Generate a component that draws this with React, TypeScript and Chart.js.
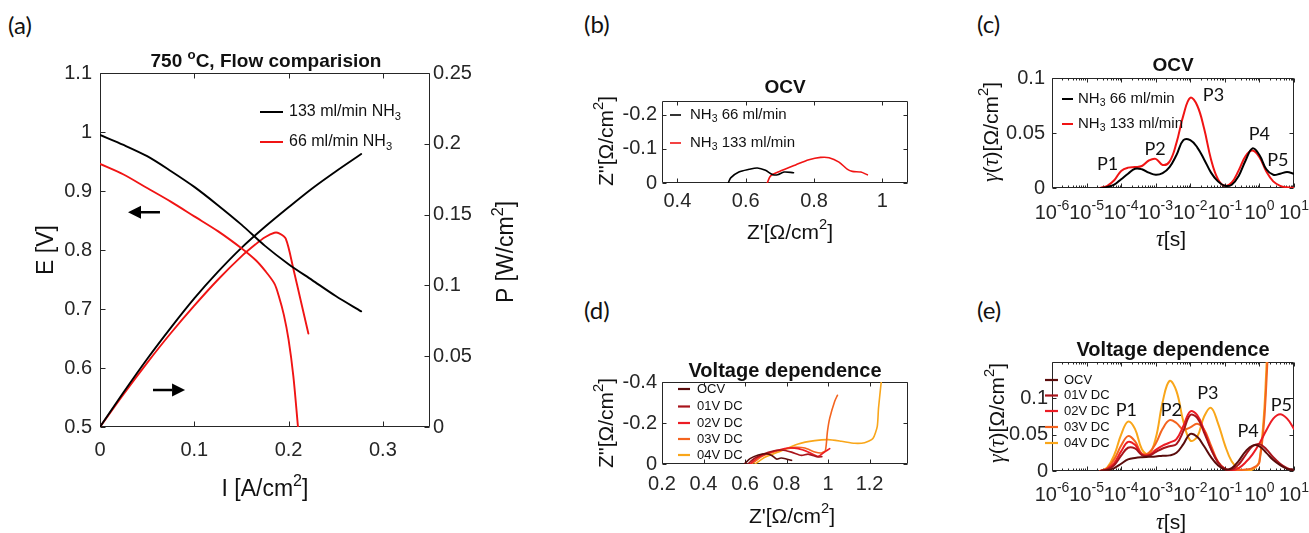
import React, { useEffect, useRef } from 'react';
import { Chart, registerables } from 'chart.js';

Chart.register(...registerables);

const SANS = '"Liberation Sans", Arial, Helvetica, sans-serif';
const SERIF = '"Liberation Serif", "DejaVu Serif", serif';
const LETTER = 'Lato, "Open Sans", sans-serif';
const AXIS = '#262626';
const TXT = '#111111';
const RED = '#f01414';
const TICK_SIZE = 20;

// ================= (a) polarisation & power curves =================
const aXTicks = [0, 0.1, 0.2, 0.3];
const aYTicks = [0.5, 0.6, 0.7, 0.8, 0.9, 1, 1.1];
const aY2Ticks = [0, 0.05, 0.1, 0.15, 0.2, 0.25];
const aNames = ['133 ml/min NH', '66 ml/min NH'];
const aI133 = [0, 0.025, 0.05, 0.075, 0.1, 0.125, 0.15, 0.175, 0.2, 0.225, 0.25, 0.277];
const aE133 = [0.995, 0.978, 0.959, 0.934, 0.907, 0.876, 0.843, 0.807, 0.776, 0.749, 0.722, 0.696];
const aP133 = [0, 0.0245, 0.048, 0.07, 0.0908, 0.1095, 0.1265, 0.1414, 0.1552, 0.1685, 0.1805, 0.1928];
const aI66E = [0, 0.025, 0.05, 0.075, 0.1, 0.125, 0.15, 0.165, 0.175, 0.185, 0.19, 0.195, 0.2, 0.205, 0.21];
const aE66 = [0.946, 0.928, 0.905, 0.882, 0.857, 0.832, 0.803, 0.783, 0.765, 0.743, 0.72, 0.69, 0.648, 0.587, 0.5];
const aI66P = [0, 0.025, 0.05, 0.075, 0.1, 0.125, 0.15, 0.165, 0.175, 0.185, 0.19, 0.197, 0.205, 0.213, 0.221];
const aP66 = [0, 0.0232, 0.0453, 0.0662, 0.0857, 0.104, 0.1205, 0.129, 0.134, 0.1372, 0.1368, 0.133, 0.112, 0.089, 0.066];

// ================= (b) Nyquist, OCV =================
const bXTicks = [0.4, 0.6, 0.8, 1];
const bYTicks = [-0.2, -0.1, 0];
const bNames = [' 66 ml/min', ' 133 ml/min'];
const bZre66 = [0.549, 0.556, 0.58, 0.61, 0.634, 0.658, 0.678, 0.693, 0.712, 0.74];
const bZim66 = [0, -0.015, -0.032, -0.04, -0.044, -0.037, -0.025, -0.024, -0.032, -0.03];
const bZre133 = [0.663, 0.673, 0.697, 0.746, 0.785, 0.819, 0.844, 0.873, 0.898, 0.912, 0.937, 0.956];
const bZim133 = [0, -0.021, -0.033, -0.053, -0.068, -0.075, -0.074, -0.061, -0.04, -0.034, -0.032, -0.024];

// ================= (c) DRT, OCV =================
const tauDecades = [-6, -5, -4, -3, -2, -1, 0, 1];
const tauExp = [-4.6, -4.4, -4.2, -4, -3.8, -3.6, -3.4, -3.2, -3, -2.8, -2.6, -2.4, -2.2, -2, -1.8, -1.6, -1.4, -1.2, -1, -0.8, -0.6, -0.4, -0.2, 0, 0.2, 0.4, 0.6, 0.8, 1];
const cYTicks = [0, 0.05, 0.1];
const cG66 = [0, 0.001, 0.003, 0.008, 0.013, 0.0175, 0.017, 0.014, 0.012, 0.0135, 0.019, 0.03, 0.0435, 0.0435, 0.037, 0.026, 0.014, 0.006, 0.002, 0.003, 0.011, 0.025, 0.036, 0.03, 0.017, 0.012, 0.013, 0.0145, 0.013];
const cG133 = [0, 0.002, 0.007, 0.0155, 0.0185, 0.019, 0.02, 0.025, 0.0265, 0.021, 0.024, 0.041, 0.066, 0.082, 0.075, 0.054, 0.026, 0.008, 0.002, 0.005, 0.016, 0.029, 0.034, 0.028, 0.015, 0.006, 0.002, 0.0006, 0.0002];
const cPeaks = ['P1', 'P2', 'P3', 'P4', 'P5'];
const cPeakTau = [-4.39, -3.02, -1.33, 0.0, 0.53];
const cPeakG = [0.0218, 0.0357, 0.0842, 0.0485, 0.0257];

// ================= (d) Nyquist, voltage dependence =================
const dXTicks = [0.2, 0.4, 0.6, 0.8, 1, 1.2];
const dYTicks = [-0.4, -0.2, 0];
const vNames = ['OCV', '01V DC', '02V DC', '03V DC', '04V DC'];
const dZreOCV = [0.597, 0.624, 0.664, 0.704, 0.731, 0.752, 0.773, 0.795, 0.824];
const dZimOCV = [0, -0.026, -0.044, -0.05, -0.04, -0.024, -0.029, -0.026, -0.018];
const dZre01 = [0.613, 0.648, 0.712, 0.776, 0.824, 0.872, 0.904, 0.952, 0.97];
const dZim01 = [0, -0.029, -0.057, -0.068, -0.058, -0.042, -0.048, -0.034, -0.036];
const dZre02 = [0.624, 0.664, 0.728, 0.808, 0.856, 0.904, 0.952, 0.984, 1.008];
const dZim02 = [0, -0.033, -0.059, -0.078, -0.075, -0.059, -0.037, -0.059, -0.075];
const dZre03 = [0.632, 0.68, 0.76, 0.84, 0.888, 0.936, 0.968, 0.987, 0.997, 1.008, 1.032, 1.045];
const dZim03 = [0, -0.037, -0.065, -0.081, -0.078, -0.059, -0.054, -0.065, -0.159, -0.224, -0.306, -0.335];
const dZre04 = [0.648, 0.696, 0.776, 0.856, 0.936, 1.0, 1.064, 1.128, 1.176, 1.216, 1.237, 1.243, 1.256, 1.261];
const dZim04 = [0, -0.033, -0.065, -0.098, -0.114, -0.119, -0.111, -0.101, -0.104, -0.124, -0.184, -0.273, -0.4, -0.452];

// ================= (e) DRT, voltage dependence =================
const eYTicks = [0, 0.05, 0.1];
const eGOCV = [0, 0.001, 0.004, 0.01, 0.016, 0.018, 0.019, 0.0195, 0.02, 0.021, 0.0215, 0.025, 0.037, 0.051, 0.047, 0.034, 0.019, 0.008, 0.002, 0.004, 0.014, 0.027, 0.035, 0.034, 0.025, 0.015, 0.008, 0.003, 0.001];
const eG01 = [0, 0.002, 0.008, 0.021, 0.032, 0.031, 0.022, 0.021, 0.026, 0.031, 0.034, 0.037, 0.055, 0.077, 0.073, 0.053, 0.03, 0.012, 0.003, 0.002, 0.009, 0.022, 0.034, 0.037, 0.03, 0.019, 0.01, 0.004, 0.001];
const eG02 = [0, 0.003, 0.011, 0.027, 0.04, 0.036, 0.023, 0.022, 0.029, 0.035, 0.039, 0.044, 0.062, 0.082, 0.077, 0.056, 0.031, 0.012, 0.003, 0.001, 0.004, 0.012, 0.023, 0.038, 0.056, 0.072, 0.078, 0.072, 0.058];
const eG03 = [0, 0.004, 0.016, 0.035, 0.048, 0.041, 0.024, 0.025, 0.038, 0.058, 0.07, 0.066, 0.057, 0.06, 0.065, 0.057, 0.035, 0.013, 0.003, 0.0, 0.001, 0.002, 0.004, 0.012, 0.12, 0.38];
const eG04 = [0, 0.005, 0.022, 0.05, 0.068, 0.058, 0.03, 0.023, 0.045, 0.095, 0.124, 0.11, 0.068, 0.042, 0.047, 0.075, 0.087, 0.066, 0.036, 0.013, 0.003, 0.0, 0.002, 0.014, 0.14, 0.4];
const ePeaks = ['P1', 'P2', 'P3', 'P4', 'P5'];
const ePeakTau = [-3.85, -2.55, -1.49, -0.33, 0.636];
const ePeakG = [0.0837, 0.0837, 0.1066, 0.0549, 0.0905];

const vColors = ['#5a0c0c', '#a8141b', '#ec1c24', '#f4641f', '#f9a61a'];

// ================= helpers =================
type Pt = { x: number; y: number };
type Seg = { t: string; s?: 'sup' | 'sub'; it?: boolean };

const zip = (xs: number[], ys: number[]): Pt[] => ys.map((y, i) => ({ x: xs[i], y }));
const zipLog = (es: number[], ys: number[]): Pt[] => ys.map((y, i) => ({ x: Math.pow(10, es[i]), y }));
const fmt = (v: any) => String(parseFloat(Number(v).toFixed(4)));

function series(data: Pt[], color: string, width: number, tension: number, yAxisID = 'y') {
  return {
    data, borderColor: color, backgroundColor: color, borderWidth: width,
    pointRadius: 0, pointHoverRadius: 0, tension, yAxisID, fill: false,
    borderCapStyle: 'round', borderJoinStyle: 'round',
  };
}

function linScale(position: string, min: number, max: number, ticks: number[], fit: number, pad: number, extra: any = {}) {
  const horizontal = position === 'bottom';
  return {
    type: 'linear', position, min, max,
    grid: { display: false, drawTicks: false }, border: { display: false },
    afterBuildTicks: (s: any) => { s.ticks = ticks.map((value) => ({ value })); },
    afterFit: (s: any) => { if (horizontal) s.height = fit; else s.width = fit; },
    ticks: {
      font: { family: SANS, size: TICK_SIZE }, color: AXIS, padding: pad, autoSkip: false,
      maxRotation: 0, minRotation: 0, includeBounds: false, callback: fmt,
    },
    ...extra,
  };
}

function logXScale(fit: number) {
  return {
    type: 'logarithmic', position: 'bottom', min: 1e-6, max: 10,
    grid: { display: false, drawTicks: false }, border: { display: false },
    afterBuildTicks: (s: any) => { s.ticks = tauDecades.map((e) => ({ value: Math.pow(10, e) })); },
    afterFit: (s: any) => { s.height = fit; },
    ticks: { display: false, autoSkip: false },
  };
}

function baseOptions(padding: any, scales: any) {
  return {
    responsive: false, maintainAspectRatio: false, animation: false, events: [],
    layout: { padding },
    plugins: { legend: { display: false }, tooltip: { enabled: false }, title: { display: false } },
    scales,
  };
}

function drawRich(ctx: CanvasRenderingContext2D, segs: Seg[], x: number, y: number, size: number,
  weight = 'normal', align: 'left' | 'center' = 'center', color = TXT, family = SANS) {
  const parts = segs.map((g) => {
    const sz = g.s ? size * 0.7 : size;
    const font = g.it ? `italic ${sz * 1.05}px ${SERIF}` : `${weight} ${sz}px ${family}`;
    ctx.font = font;
    return { t: g.t, font, w: ctx.measureText(g.t).width, dy: g.s === 'sup' ? -size * 0.36 : g.s === 'sub' ? size * 0.3 : 0 };
  });
  const total = parts.reduce((s, p) => s + p.w, 0);
  let cx = align === 'center' ? x - total / 2 : x;
  ctx.save();
  ctx.fillStyle = color;
  ctx.textBaseline = 'middle';
  ctx.textAlign = 'left';
  parts.forEach((p) => { ctx.font = p.font; ctx.fillText(p.t, cx, y + p.dy); cx += p.w; });
  ctx.restore();
}

function drawRotated(ctx: CanvasRenderingContext2D, segs: Seg[], x: number, y: number, size: number) {
  ctx.save();
  ctx.translate(x, y);
  ctx.rotate(-Math.PI / 2);
  drawRich(ctx, segs, 0, 0, size);
  ctx.restore();
}

function legendEntry(ctx: CanvasRenderingContext2D, x1: number, x2: number, y: number, color: string, lw: number, tx: number, segs: Seg[], size: number) {
  ctx.save();
  ctx.strokeStyle = color; ctx.lineWidth = lw;
  ctx.beginPath(); ctx.moveTo(x1, y); ctx.lineTo(x2, y); ctx.stroke();
  ctx.restore();
  drawRich(ctx, segs, tx, y, size, 'normal', 'left', TXT);
}

function arrow(ctx: CanvasRenderingContext2D, x1: number, y1: number, x2: number, y2: number) {
  const ang = Math.atan2(y2 - y1, x2 - x1);
  const hl = 13, hw = 6.5;
  const c = Math.cos(ang), s = Math.sin(ang);
  ctx.save();
  ctx.strokeStyle = '#000'; ctx.fillStyle = '#000'; ctx.lineWidth = 2.5;
  ctx.beginPath(); ctx.moveTo(x1, y1); ctx.lineTo(x2 - hl * c, y2 - hl * s); ctx.stroke();
  ctx.beginPath();
  ctx.moveTo(x2, y2);
  ctx.lineTo(x2 - hl * c + hw * s, y2 - hl * s - hw * c);
  ctx.lineTo(x2 - hl * c - hw * s, y2 - hl * s + hw * c);
  ctx.closePath(); ctx.fill();
  ctx.restore();
}

function makeFrame(tickLen: number, logMinor: boolean) {
  return {
    id: 'frame',
    beforeDatasetsDraw(chart: any) {
      const { ctx, chartArea: a, scales } = chart;
      const L = Math.round(a.left) + 0.5, R = Math.round(a.right) - 0.5;
      const T = Math.round(a.top) + 0.5, B = Math.round(a.bottom) - 0.5;
      ctx.save();
      ctx.strokeStyle = AXIS; ctx.lineWidth = 1;
      ctx.beginPath();
      ctx.rect(L, T, R - L, B - T);
      const xs = scales.x;
      const vx = (v: number, len: number) => {
        const p = Math.round(xs.getPixelForValue(v)) + 0.5;
        ctx.moveTo(p, B); ctx.lineTo(p, B - len); ctx.moveTo(p, T); ctx.lineTo(p, T + len);
      };
      xs.ticks.forEach((t: any) => vx(t.value, tickLen));
      if (logMinor) {
        tauDecades.slice(0, -1).forEach((e) => {
          for (let k = 2; k < 10; k++) vx(k * Math.pow(10, e), tickLen * 0.5);
        });
      }
      const y1 = scales.y, y2 = scales.y2;
      y1.ticks.forEach((t: any) => {
        const p = Math.round(y1.getPixelForValue(t.value)) + 0.5;
        ctx.moveTo(L, p); ctx.lineTo(L + tickLen, p);
        if (!y2) { ctx.moveTo(R, p); ctx.lineTo(R - tickLen, p); }
      });
      if (y2) {
        y2.ticks.forEach((t: any) => {
          const p = Math.round(y2.getPixelForValue(t.value)) + 0.5;
          ctx.moveTo(R, p); ctx.lineTo(R - tickLen, p);
        });
      }
      ctx.stroke();
      ctx.restore();
    },
  };
}

function logTickLabels(chart: any, dy: number) {
  const { ctx, chartArea: a } = chart;
  const xs = chart.scales.x;
  xs.ticks.forEach((t: any) => {
    const e = Math.round(Math.log10(t.value));
    drawRich(ctx, [{ t: '10' }, { t: String(e), s: 'sup' }], xs.getPixelForValue(t.value), a.bottom + dy, TICK_SIZE, 'normal', 'center', AXIS);
  });
}

type PanelDef = { left: number; top: number; width: number; height: number; build: () => any };

function makeDeco(panel: { left: number; top: number }, fn: (ctx: CanvasRenderingContext2D, chart: any, X: (v: number) => number, Y: (v: number) => number) => void) {
  return {
    id: 'deco',
    afterDraw(chart: any) {
      fn(chart.ctx, chart, (v) => v - panel.left, (v) => v - panel.top);
    },
  };
}

const cm2 = (pre: string): Seg[] => [{ t: pre + '[Ω/cm' }, { t: '2', s: 'sup' }, { t: ']' }];
const gammaLabel: Seg[] = [{ t: 'γ', it: true }, { t: '(' }, { t: 'τ', it: true }, { t: ')' }, ...cm2('')];
const tauLabel: Seg[] = [{ t: 'τ', it: true }, { t: '[s]' }];

// ================= panels =================
const PA = { left: 0, top: 40, width: 560, height: 493 };
const PB = { left: 570, top: 60, width: 370, height: 200 };
const PC = { left: 960, top: 50, width: 349, height: 210 };
const PD = { left: 570, top: 330, width: 370, height: 203 };
const PE = { left: 960, top: 330, width: 349, height: 203 };

const panelA: PanelDef = {
  ...PA,
  build: () => ({
    type: 'line',
    data: {
      datasets: [
        series(zip(aI133, aE133), '#000', 1.9, 0.3, 'y'),
        series(zip(aI66E, aE66), RED, 1.9, 0.3, 'y'),
        series(zip(aI133, aP133), '#000', 1.9, 0.3, 'y2'),
        series(zip(aI66P, aP66), RED, 1.9, 0.3, 'y2'),
      ],
    },
    options: baseOptions({ left: 30, top: 33, right: 50, bottom: 66 }, {
      x: linScale('bottom', 0, 0.35, aXTicks, 40, 11),
      y: linScale('left', 0.5, 1.1, aYTicks, 70, 8),
      y2: linScale('right', 0, 0.25, aY2Ticks, 80, 3),
    }),
    plugins: [
      makeFrame(5, false),
      makeDeco(PA, (ctx, chart, X, Y) => {
        drawRich(ctx, [{ t: '750 ' }, { t: 'o', s: 'sup' }, { t: 'C, Flow comparision' }], X(266), Y(62), 19, 'bold');
        drawRotated(ctx, [{ t: 'E [V]' }], X(47), Y(250), 23);
        drawRotated(ctx, [{ t: 'P [W/cm' }, { t: '2', s: 'sup' }, { t: ']' }], X(507), Y(252), 23);
        drawRich(ctx, [{ t: 'I [A/cm' }, { t: '2', s: 'sup' }, { t: ']' }], X(265), Y(490), 23);
        const cols = ['#000', RED];
        const ly = [112, 142];
        aNames.forEach((n, i) => legendEntry(ctx, X(260), X(283), Y(ly[i]), cols[i], 2, X(289), [{ t: n }, { t: '3', s: 'sub' }], 16));
        const xs = chart.scales.x, ys = chart.scales.y;
        arrow(ctx, xs.getPixelForValue(0.0636), ys.getPixelForValue(0.864), xs.getPixelForValue(0.0297), ys.getPixelForValue(0.864));
        arrow(ctx, xs.getPixelForValue(0.0562), ys.getPixelForValue(0.5627), xs.getPixelForValue(0.0902), ys.getPixelForValue(0.5627));
      }),
    ],
  }),
};

const panelB: PanelDef = {
  ...PB,
  build: () => ({
    type: 'line',
    data: {
      datasets: [
        series(zip(bZre66, bZim66), '#000', 1.6, 0.3),
        series(zip(bZre133, bZim133), RED, 1.6, 0.3),
      ],
    },
    options: baseOptions({ left: 32, top: 41, right: 32, bottom: 47 }, {
      x: linScale('bottom', 0.355, 1.075, bXTicks, 30, 6),
      y: linScale('left', -0.24, 0, bYTicks, 60, 5, { reverse: true }),
    }),
    plugins: [
      makeFrame(4, false),
      makeDeco(PB, (ctx, chart, X, Y) => {
        drawRich(ctx, [{ t: 'OCV' }], X(785), Y(88), 19, 'bold');
        drawRotated(ctx, cm2("Z''"), X(607), Y(141), 21);
        drawRich(ctx, cm2("Z'"), X(790), Y(233), 21);
        const cols = ['#000', RED];
        const ly = [115, 143];
        bNames.forEach((n, i) => legendEntry(ctx, X(670), X(681), Y(ly[i]), cols[i], 1.6, X(690), [{ t: 'NH' }, { t: '3', s: 'sub' }, { t: n }], 15));
      }),
    ],
  }),
};

const panelC: PanelDef = {
  ...PC,
  build: () => ({
    type: 'line',
    data: {
      datasets: [
        series(zipLog(tauExp, cG66), '#000', 2, 0.4),
        series(zipLog(tauExp, cG133), RED, 2, 0.4),
      ],
    },
    options: baseOptions({ left: 32, top: 28, right: 15, bottom: 42 }, {
      x: logXScale(30),
      y: linScale('left', 0, 0.1, cYTicks, 60, 7),
    }),
    plugins: [
      makeFrame(4, true),
      makeDeco(PC, (ctx, chart, X, Y) => {
        logTickLabels(chart, 25);
        drawRich(ctx, [{ t: 'OCV' }], X(1173), Y(66), 19, 'bold');
        drawRotated(ctx, gammaLabel, X(992), Y(132), 21);
        drawRich(ctx, tauLabel, X(1171), Y(240), 21);
        const cols = ['#000', RED];
        const ly = [99, 124];
        bNames.forEach((n, i) => legendEntry(ctx, X(1062), X(1073), Y(ly[i]), cols[i], 2, X(1078), [{ t: 'NH' }, { t: '3', s: 'sub' }, { t: n }], 15));
        const xs = chart.scales.x, ys = chart.scales.y;
        cPeaks.forEach((p, i) => drawRich(ctx, [{ t: p }], xs.getPixelForValue(Math.pow(10, cPeakTau[i])), ys.getPixelForValue(cPeakG[i]), 18, 'normal', 'center', TXT, LETTER));
      }),
    ],
  }),
};

const dZre = [dZreOCV, dZre01, dZre02, dZre03, dZre04];
const dZim = [dZimOCV, dZim01, dZim02, dZim03, dZim04];
const eG = [eGOCV, eG01, eG02, eG03, eG04];

const panelD: PanelDef = {
  ...PD,
  build: () => ({
    type: 'line',
    data: { datasets: vNames.map((_, i) => series(zip(dZre[i], dZim[i]), vColors[i], 1.6, 0.2)) },
    options: baseOptions({ left: 32, top: 52, right: 32, bottom: 39 }, {
      x: linScale('bottom', 0.2, 1.385, dXTicks, 30, 8),
      y: linScale('left', -0.4, 0, dYTicks, 60, 5, { reverse: true }),
    }),
    plugins: [
      makeFrame(4, false),
      makeDeco(PD, (ctx, chart, X, Y) => {
        drawRich(ctx, [{ t: 'Voltage dependence' }], X(785), Y(371), 20, 'bold');
        drawRotated(ctx, cm2("Z''"), X(607), Y(423), 21);
        drawRich(ctx, cm2("Z'"), X(792), Y(517), 21);
        const ly = [389, 406.5, 423, 439, 455];
        vNames.forEach((n, i) => legendEntry(ctx, X(678), X(690), Y(ly[i]), vColors[i], 2.2, X(697), [{ t: n }], 13));
      }),
    ],
  }),
};

const panelE: PanelDef = {
  ...PE,
  build: () => ({
    type: 'line',
    data: { datasets: vNames.map((_, i) => series(zipLog(tauExp, eG[i]), vColors[i], 2, 0.4)) },
    options: baseOptions({ left: 32, top: 32, right: 15, bottom: 32 }, {
      x: logXScale(30),
      y: linScale('left', 0, 0.15, eYTicks, 60, 4),
    }),
    plugins: [
      makeFrame(4, true),
      makeDeco(PE, (ctx, chart, X, Y) => {
        logTickLabels(chart, 24);
        drawRich(ctx, [{ t: 'Voltage dependence' }], X(1173), Y(350), 20, 'bold');
        drawRotated(ctx, gammaLabel, X(998), Y(413), 21);
        drawRich(ctx, tauLabel, X(1171), Y(523), 21);
        const ly = [380, 395.5, 411, 427, 443];
        vNames.forEach((n, i) => legendEntry(ctx, X(1045), X(1058), Y(ly[i]), vColors[i], 2.2, X(1064), [{ t: n }], 13));
        const xs = chart.scales.x, ys = chart.scales.y;
        ePeaks.forEach((p, i) => drawRich(ctx, [{ t: p }], xs.getPixelForValue(Math.pow(10, ePeakTau[i])), ys.getPixelForValue(ePeakG[i]), 18, 'normal', 'center', TXT, LETTER));
      }),
    ],
  }),
};

const panels = [panelA, panelB, panelC, panelD, panelE];
const letters = [
  { t: '(a)', x: 8, y: 25 },
  { t: '(b)', x: 584, y: 24 },
  { t: '(c)', x: 977, y: 24 },
  { t: '(d)', x: 584, y: 310 },
  { t: '(e)', x: 977, y: 310 },
];

function ChartBox({ def }: { def: PanelDef }) {
  const ref = useRef<HTMLCanvasElement | null>(null);
  useEffect(() => {
    if (!ref.current) return;
    const chart = new Chart(ref.current, def.build());
    return () => chart.destroy();
  }, [def]);
  return (
    <canvas
      ref={ref}
      width={def.width}
      height={def.height}
      style={{ position: 'absolute', left: def.left, top: def.top, width: def.width, height: def.height }}
    />
  );
}

export default function App() {
  return (
    <div style={{ position: 'absolute', left: 0, top: 0, width: 1309, height: 533, background: '#fff', overflow: 'hidden' }}>
      {panels.map((p, i) => <ChartBox key={i} def={p} />)}
      {letters.map((l) => (
        <div key={l.t} style={{ position: 'absolute', left: l.x, top: l.y - 13, fontFamily: LETTER, fontSize: 24, lineHeight: '26px', color: TXT }}>
          {l.t}
        </div>
      ))}
    </div>
  );
}
